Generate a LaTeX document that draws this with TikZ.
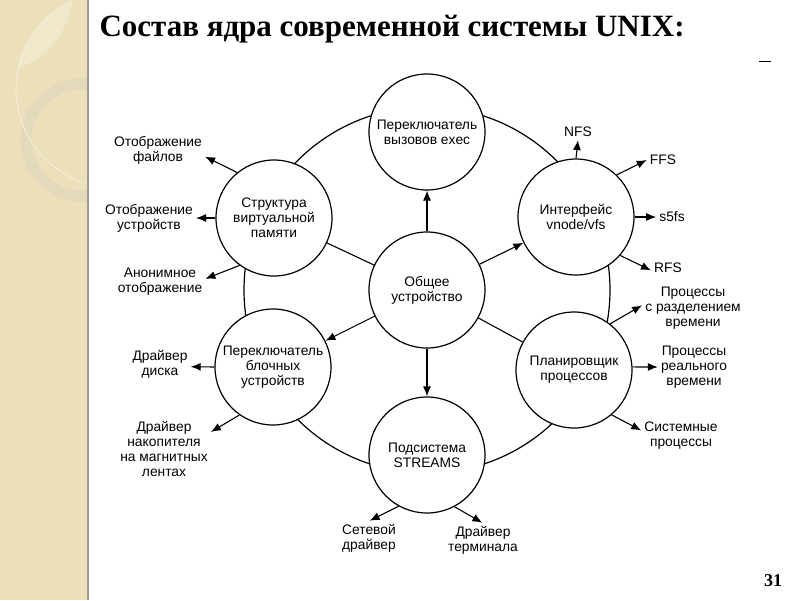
\documentclass[tikz,border=0pt]{standalone}
\usepackage{fontspec}
\setmainfont{Liberation Sans}
\newfontfamily\titlefont{Liberation Serif}
\usetikzlibrary{arrows.meta}
\definecolor{stripcol}{RGB}{236,224,186}
\definecolor{leafcol}{RGB}{241,232,204}
\definecolor{ringcol}{RGB}{228,217,186}
\definecolor{edgecol}{RGB}{160,155,140}

\begin{document}
\begin{tikzpicture}[x=1pt, y=-1pt,
    every node/.style={font=\fontsize{13.8}{15}\selectfont, align=center},
    unit/.style={circle, draw, line width=1.2pt, fill=white, minimum size=116pt, inner sep=0pt},
    lbl/.style={inner sep=3pt},
    flow/.style={line width=1.1pt, -{Latex[length=10pt,width=8pt]}}]
  \useasboundingbox (0,0) rectangle (800,600);

  \fill[stripcol] (0,0) rectangle (87,600);
  \begin{scope}
    \clip (0,0) rectangle (87,600);
    \begin{scope}
      \clip (114,89) circle[radius=98pt];
      \fill[leafcol] (-10,-10) circle[radius=83pt];
    \end{scope}
    \draw[ringcol, line width=11pt] (82,140) circle[radius=56pt];
    \draw[white!55!stripcol, line width=0.7pt] (114,89) circle[radius=98pt];
  \end{scope}
  \draw[edgecol, line width=1.5pt] (88,0) -- (88,600);

  \node[anchor=base west, font=\titlefont\bfseries\fontsize{31}{36}\selectfont] (title) at (96,36) {Состав ядра современной системы UNIX:};
  \draw[line width=1pt] (759,61) -- (771,61);
  \node[font=\titlefont\bfseries\fontsize{18}{20}\selectfont] (pagenum) at (773,581) {31};

  \node[unit] (core) at (427,290) {Общее\\устройство};
  \draw[line width=1.2pt] (core.center) circle[radius=183pt];

  \node[unit] (exec) at (427,132) {Переключатель\\вызовов exec};
  \node[unit] (vnode) at (576,217) {Интерфейс\\vnode/vfs};
  \node[unit] (vm) at (274,218) {Структура\\виртуальной\\памяти};
  \node[unit] (block) at (273,367) {Переключатель\\блочных\\устройств};
  \node[unit] (sched) at (574,370) {Планировщик\\процессов};
  \node[unit] (streams) at (427,455) {Подсистема\\STREAMS};

  \draw[flow] (core) -- (exec);
  \draw[flow] (core) -- (vnode);
  \draw[flow] (core) -- (block);
  \draw[flow] (core) -- (streams);
  \draw[line width=1.1pt] (core) -- (vm);
  \draw[line width=1.1pt] (core) -- (sched);

  \node[lbl] (fmap) at (158,150) {Отображение\\файлов};
  \node[lbl] (devmap) at (149,218) {Отображение\\устройств};
  \node[lbl] (anonmap) at (160,282) {Анонимное\\отображение};
  \node[lbl] (disk) at (160,364) {Драйвер\\диска};
  \node[lbl] (tape) at (164,449) {Драйвер\\накопителя\\на магнитных\\лентах};
  \node[lbl] (netdrv) at (369,538) {Сетевой\\драйвер};
  \node[lbl] (termdrv) at (483,540) {Драйвер\\терминала};
  \node[lbl] (sysproc) at (681,436) {Системные\\процессы};
  \node[lbl] (rtproc) at (694,367) {Процессы\\реального\\времени};
  \node[lbl] (tsproc) at (693,308) {Процессы\\с разделением\\времени};
  \node[lbl] (nfs) at (578,132) {NFS};
  \node[lbl] (ffs) at (663,160) {FFS};
  \node[lbl] (s5fs) at (672,217) {s5fs};
  \node[lbl] (rfs) at (668,268) {RFS};

  \draw[flow] (vm.129) -- (fmap.352);
  \draw[flow] (vm.180) -- (devmap.0);
  \draw[flow] (vm.234) -- (anonmap.4);
  \draw[flow] (block.180) -- (disk.355);
  \draw[flow] (block.235) -- (tape.20);
  \draw[flow] (streams.241) -- (netdrv.88);
  \draw[flow] (streams.298) -- (termdrv.92);
  \draw[flow] (sched.52) -- (tsproc.177);
  \draw[flow] (sched.3) -- (rtproc.180);
  \draw[flow] (sched.310) -- (sysproc.172);
  \draw[flow] (vnode.90) -- (nfs.270);
  \draw[flow] (vnode.46) -- (ffs.180);
  \draw[flow] (vnode.0) -- (s5fs.180);
  \draw[flow] (vnode.319) -- (rfs.188);
\end{tikzpicture}
\end{document}
